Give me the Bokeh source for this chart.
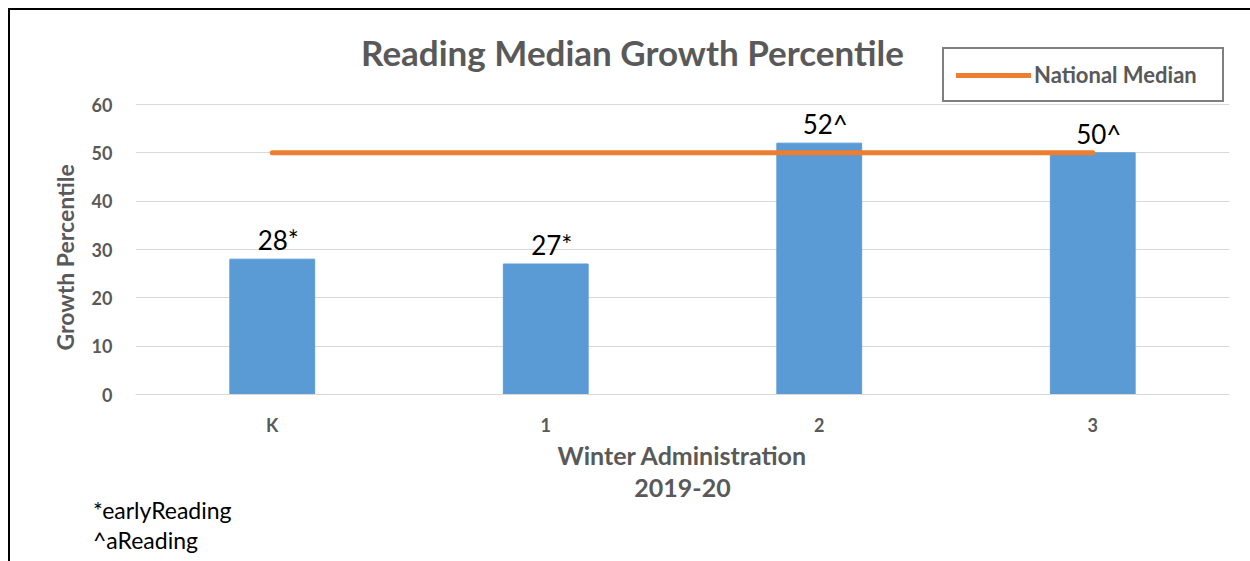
from bokeh.plotting import figure
from bokeh.layouts import column
from bokeh.models import (Range1d, FixedTicker, ColumnDataSource, LabelSet, Label,
                          Legend, LegendItem, Div, Title)
from bokeh.core.properties import value
from bokeh.embed import file_html
from bokeh.resources import INLINE

# ---- data ----
categories = ["K", "1", "2", "3"]
growth = [28, 27, 52, 50]
label_text = ["28*", "27*", "52^", "50^"]
national_median = [50, 50, 50, 50]
y_ticks = [0, 10, 20, 30, 40, 50, 60]
footnotes = ["*earlyReading", "^aReading"]

FONT = "Lato"
GREY = "#595959"
ORANGE = "#ED7D31"
BLUE = "#5B9BD5"
W = 1240
TOP, FRAME_H, BOTTOM = 20, 364, 111
MAIN_H = TOP + FRAME_H + BOTTOM
AXIS_H = 290  # pixel height of the 0..60 scale
y_top = 60 * FRAME_H / AXIS_H  # head room above 60 for title and legend

idx = list(range(len(categories)))

p = figure(width=W, height=MAIN_H, output_backend="svg", toolbar_location=None,
           x_range=Range1d(-0.5, len(categories) - 0.5), y_range=Range1d(0, y_top),
           min_border_left=125, min_border_right=21, min_border_top=TOP,
           min_border_bottom=BOTTOM)
p.title.visible = False
p.outline_line_color = None

bars = ColumnDataSource(dict(x=idx, top=growth, text=label_text))
p.vbar(x="x", top="top", width=0.31, source=bars, color=BLUE)
med = p.line(idx, national_median, line_color=ORANGE, line_width=5, line_cap="round")

labels = LabelSet(x="x", y="top", text="text", source=bars, text_align="center",
                  text_baseline="alphabetic", y_offset=9, x_offset=6,
                  text_font=value(FONT), text_font_size="26px", text_color="black")
p.add_layout(labels)

p.xaxis.ticker = FixedTicker(ticks=idx)
p.xaxis.major_label_overrides = {i: c for i, c in zip(idx, categories)}
p.yaxis.ticker = FixedTicker(ticks=y_ticks)
for ax in (p.xaxis, p.yaxis):
    ax.major_tick_line_color = None
    ax.minor_tick_line_color = None
    ax.major_tick_out = 0
    ax.major_tick_in = 0
    ax.major_label_text_font = FONT
    ax.major_label_text_font_style = "bold"
    ax.major_label_text_font_size = "18px"
    ax.major_label_text_color = GREY
    ax.axis_label_text_font = FONT
    ax.axis_label_text_font_style = "bold"
    ax.axis_label_text_color = GREY
p.xaxis.axis_line_color = "#D9D9D9"
p.yaxis.axis_line_color = None
p.xaxis.major_label_standoff = 19
p.yaxis.major_label_standoff = 23
p.xaxis.axis_label = "Winter Administration\n2019-20"
p.xaxis.axis_label_text_font_size = "25px"
p.xaxis.axis_label_text_line_height = 1.07
p.xaxis.axis_label_standoff = 1

# y axis title, anchored to the 0..60 part of the axis
p.add_layout(Title(text="Growth Percentile", align="left", offset=44,
                   vertical_align="bottom", standoff=20, text_font=FONT,
                   text_font_style="bold", text_font_size="23px",
                   text_color=GREY), "left")

p.xgrid.grid_line_color = None
p.ygrid.grid_line_color = "#D9D9D9"
p.ygrid.grid_line_width = 1

# chart title
p.add_layout(Label(x=622, y=41, x_units="canvas", y_units="canvas",
                   text="Reading Median Growth Percentile", text_align="center",
                   text_baseline="middle", text_font=FONT, text_font_style="bold",
                   text_font_size="35px", text_color=GREY))

# legend
legend = Legend(items=[LegendItem(label="National Median", renderers=[med])],
                location=(807, 292), padding=12, margin=0, glyph_width=75,
                glyph_height=6, label_height=6, label_width=176, label_standoff=3,
                label_text_font=FONT, label_text_font_style="bold",
                label_text_font_size="22px", label_text_color=GREY,
                border_line_color="black", border_line_width=2,
                background_fill_alpha=1)
p.add_layout(legend)

# footnotes
foot_html = "<br>".join(footnotes)
foot = Div(text=f'<div style="position:relative; top:-15px; padding-left:78px; '
                f'font-family:Lato; font-size:23px; line-height:30px; color:black;">'
                f'{foot_html}</div>',
           width=W, height=561 - 10 - MAIN_H)

page = column(p, foot, spacing=0)
page.styles = {"margin-left": "8px", "margin-top": "8px",
               "border-left": "2px solid black", "border-top": "2px solid black"}

open("out.html", "w").write(file_html(page, INLINE))
